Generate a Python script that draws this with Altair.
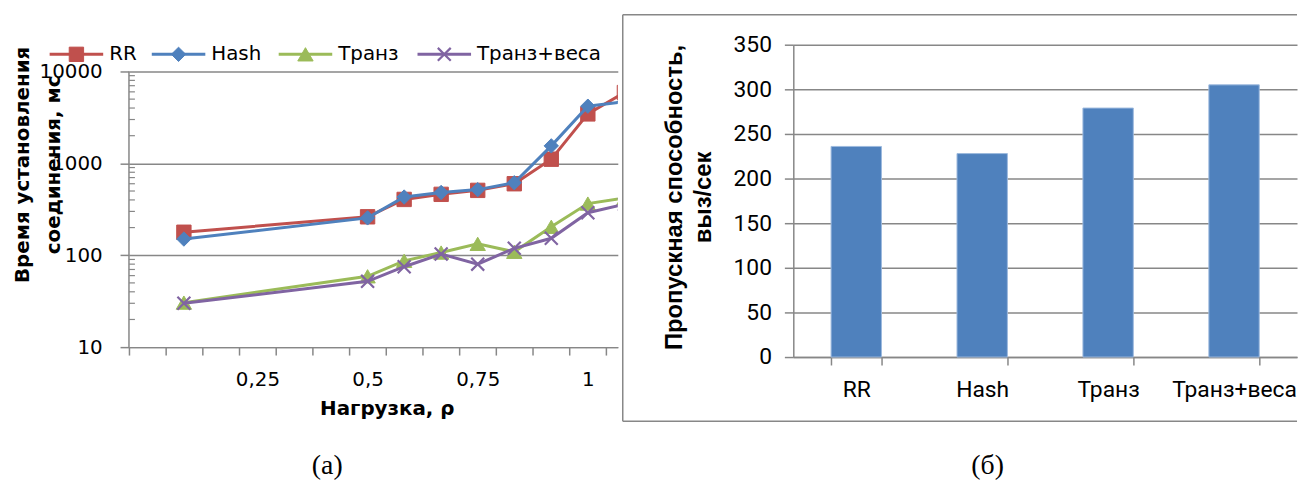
import altair as alt
import pandas as pd

# ---------------- data ----------------
LOAD = [0.083, 0.5, 0.583, 0.667, 0.75, 0.833, 0.917, 1.0, 1.083]
SERIES = ["RR", "Hash", "Транз", "Транз+веса"]
RR = [178, 262, 405, 460, 508, 600, 1110, 3450, 5900]
HASH = [150, 255, 430, 482, 518, 615, 1550, 4190, 4700]
TRANZ = [30.5, 59, 87, 107, 133, 109, 204, 365, 420]
TRANZ_W = [30, 52, 75, 103, 80, 119, 153, 290, 358]

METHODS = ["RR", "Hash", "Транз", "Транз+веса"]
THROUGHPUT = [236, 228, 279, 305]

Y_TICKS_LEFT = [10, 100, 1000, 10000]
X_LABEL_AT = [0.25, 0.5, 0.75, 1.0]
X_LABELS = ["0,25", "0,5", "0,75", "1"]
Y_TICKS_RIGHT = [0, 50, 100, 150, 200, 250, 300, 350]

# ---------------- styles ----------------
GRAY = "#878787"
COLORS = ["#C0504D", "#4F81BD", "#9BBB59", "#8064A2"]
BAR_COLOR = "#4F81BD"
X_PATH = "M-1,-1L1,1M-1,1L1,-1"
SHAPES = ["square", "diamond", "triangle-up", X_PATH]
SIZES = [210, 210, 240, 170]
LEGEND_X0 = [-80, 23, 151, 291]
LEGEND_Y = 9.7
LBL_FONT = "DejaVu Sans"

rows = []
for name, vals in zip(SERIES, [RR, HASH, TRANZ, TRANZ_W]):
    for x, v in zip(LOAD, vals):
        rows.append({"series": name, "load": x, "ms": v})
df = pd.DataFrame(rows)

# ---------------- left chart ----------------
W1, H1 = 493, 305
DECADE_PX = 92.67
STEP = 1 / 12
X_MIN, X_MAX = -STEP / 2, 1.068
Y_TOP = 10 ** (1 + H1 / DECADE_PX)
x_scale = alt.Scale(domain=[X_MIN, X_MAX], nice=False, zero=False)
y_scale = alt.Scale(type="log", domain=[10, Y_TOP], nice=False)
x_ticks = [X_MIN + k * STEP for k in range(14)]
label_shift = (STEP / 2) * W1 / (X_MAX - X_MIN)

expr = "''"
for v, t in reversed(list(zip(X_LABEL_AT, X_LABELS))):
    expr = f"abs(datum.value - {v - STEP / 2:.5f}) < 0.01 ? '{t}' : ({expr})"

x_axis = alt.Axis(
    values=x_ticks, labelExpr=expr, labelOffset=label_shift, labelOverlap=False,
    labelFlush=False, grid=False, tickSize=8, tickColor=GRAY, tickWidth=1.5,
    domainColor=GRAY, domainWidth=1.5, labelFont=LBL_FONT, labelFontSize=20,
    labelColor="#000", labelPadding=15, title="Нагрузка, ρ", titleFont=LBL_FONT,
    titleFontWeight="bold", titleFontSize=20, titleColor="#000", titleX=260,
    titleY=68, titleBaseline="alphabetic", titleAlign="center",
)
y_axis = alt.Axis(
    values=Y_TICKS_LEFT, format="d", tickSize=9, tickColor=GRAY, tickWidth=1.5,
    domain=False, grid=True, gridColor=GRAY, gridWidth=1.5,
    labelFont=LBL_FONT, labelFontSize=20, labelColor="#000", labelPadding=18,
    title=["Время установления", "соединения, мс"], titleFont=LBL_FONT,
    titleFontWeight="bold", titleFontSize=20, titleColor="#000", titleAngle=270,
    titleX=-101, titleY=120.7, titleBaseline="alphabetic", titleAlign="center",
    titleLineHeight=31,
)

left_layers = []
# y axis line limited to the labelled decades
span_df = pd.DataFrame({"lo": [Y_TICKS_LEFT[0]], "hi": [Y_TICKS_LEFT[-1]]})
left_layers.append(
    alt.Chart(span_df).mark_rule(color=GRAY, strokeWidth=1.5).encode(
        x=alt.value(0), y=alt.Y("lo:Q", scale=y_scale, axis=y_axis), y2="hi:Q")
)
# minor (inside) ticks
MINOR = [m * 10 ** e for e in (1, 2, 3) for m in range(2, 10)]
minor_df = pd.DataFrame({"v": MINOR})
left_layers.append(
    alt.Chart(minor_df).mark_rule(color=GRAY, strokeWidth=1.2).encode(
        y=alt.Y("v:Q", scale=y_scale, axis=y_axis), x=alt.value(0), x2=alt.value(6))
)

for i, (name, col, shp, sz) in enumerate(zip(SERIES, COLORS, SHAPES, SIZES)):
    base = alt.Chart(df).transform_filter(alt.datum.series == name)
    xenc = alt.X("load:Q", scale=x_scale, axis=x_axis)
    yenc = alt.Y("ms:Q", scale=y_scale, axis=y_axis)
    line = base.mark_line(color=col, strokeWidth=3, clip=True).encode(x=xenc, y=yenc)
    if shp == X_PATH:
        pts = base.mark_point(shape=shp, size=sz, color=col, filled=False,
                              strokeWidth=2.2, opacity=1, clip=True)
    else:
        pts = base.mark_point(shape=shp, size=sz, color=col, fill=col, filled=True,
                              stroke=col, strokeWidth=1, opacity=1, clip=True)
    left_layers += [line, pts.encode(x=xenc, y=yenc)]

    # custom legend entry (line + marker + label)
    ldf = pd.DataFrame({"series": [name]})
    x0 = LEGEND_X0[i]
    lg = alt.Chart(ldf)
    left_layers.append(lg.mark_rule(color=col, strokeWidth=3).encode(
        x=alt.value(x0), x2=alt.value(x0 + 54), y=alt.value(LEGEND_Y)))
    if shp == X_PATH:
        lp = lg.mark_point(shape=shp, size=sz, color=col, filled=False, strokeWidth=2.2, opacity=1)
    else:
        lp = lg.mark_point(shape=shp, size=sz, color=col, fill=col, filled=True,
                           stroke=col, strokeWidth=1, opacity=1)
    left_layers.append(lp.encode(x=alt.value(x0 + 27), y=alt.value(LEGEND_Y)))
    left_layers.append(lg.mark_text(align="left", baseline="middle", font=LBL_FONT,
                                    fontSize=20, color="#000").encode(
        x=alt.value(x0 + 60), y=alt.value(LEGEND_Y), text="series:N"))

cap_df = pd.DataFrame({"c": ["(а)", "(б)"]})
one_a = alt.Chart(cap_df).transform_filter(alt.datum.c == "(а)")
left_layers.append(
    one_a.mark_text(font="Liberation Serif", fontSize=28, color="#000",
                    baseline="middle", align="center").encode(
        x=alt.value(200), y=alt.value(425), text="c:N")
)
# invisible anchor (top-left corner of the figure)
left_layers.append(
    one_a.mark_rule(opacity=0, strokeWidth=1).encode(
        x=alt.value(-118.5), x2=alt.value(-118), y=alt.value(-34.8))
)

left = alt.layer(*left_layers).properties(width=W1, height=H1)

# ---------------- right chart ----------------
W2, H2 = 508, 315
bar_df = pd.DataFrame({"method": METHODS, "value": THROUGHPUT})

bx_axis = alt.Axis(
    labelAngle=0, title=None, grid=False, tickBand="extent", tickSize=8,
    tickColor=GRAY, tickWidth=1.5, domainColor=GRAY, domainWidth=1.5,
    labelFont="Roboto", labelFontSize=23, labelColor="#000", labelPadding=14,
)
by_axis = alt.Axis(
    values=Y_TICKS_RIGHT, tickSize=9, tickColor=GRAY, tickWidth=1.5,
    domainColor=GRAY, domainWidth=1.5, grid=True, gridColor=GRAY, gridWidth=1.5,
    labelFont="Roboto", labelFontSize=23, labelColor="#000", labelPadding=13,
    title=["Пропускная способность,", "выз/сек"], titleFont="Liberation Sans",
    titleFontWeight="bold", titleFontSize=24, titleColor="#000", titleAngle=270,
    titleX=-113, titleY=H2 / 2 - 4, titleBaseline="alphabetic", titleAlign="center",
    titleLineHeight=29,
)

bars = alt.Chart(bar_df).mark_bar(color=BAR_COLOR, stroke="#9DB9DE", strokeWidth=1).encode(
    x=alt.X("method:N", sort=METHODS,
            scale=alt.Scale(paddingInner=0.6, paddingOuter=0.3), axis=bx_axis),
    y=alt.Y("value:Q", scale=alt.Scale(domain=[0, 350], nice=False), axis=by_axis),
)

one = alt.Chart(cap_df).transform_filter(alt.datum.c == "(б)")
box_top = one.mark_rule(color=GRAY, strokeWidth=1.5).encode(
    x=alt.value(-172), x2=alt.value(W2), y=alt.value(-30.3))
box_bottom = one.mark_rule(color=GRAY, strokeWidth=1.5).encode(
    x=alt.value(-172), x2=alt.value(W2), y=alt.value(379.7))
box_left = one.mark_rule(color=GRAY, strokeWidth=1.5).encode(
    x=alt.value(-172), y=alt.value(-30.3), y2=alt.value(379.7))
cap_b = one.mark_text(font="Liberation Serif", fontSize=28, color="#000",
                      baseline="middle", align="center").encode(
    x=alt.value(196), y=alt.value(425), text="c:N")
anchor_r = one.mark_rule(opacity=0, strokeWidth=1).encode(
    x=alt.value(-100), x2=alt.value(-99), y=alt.value(-34.8))

right = alt.layer(bars, box_top, box_bottom, box_left, cap_b, anchor_r).properties(
    width=W2, height=H2)

chart = alt.hconcat(left, right, spacing=-3).properties(
    padding={"left": 3, "top": 0, "right": 0, "bottom": 0}
).configure_view(stroke=None)
chart.save("out.html", embed_options={"renderer": "svg", "actions": False})
